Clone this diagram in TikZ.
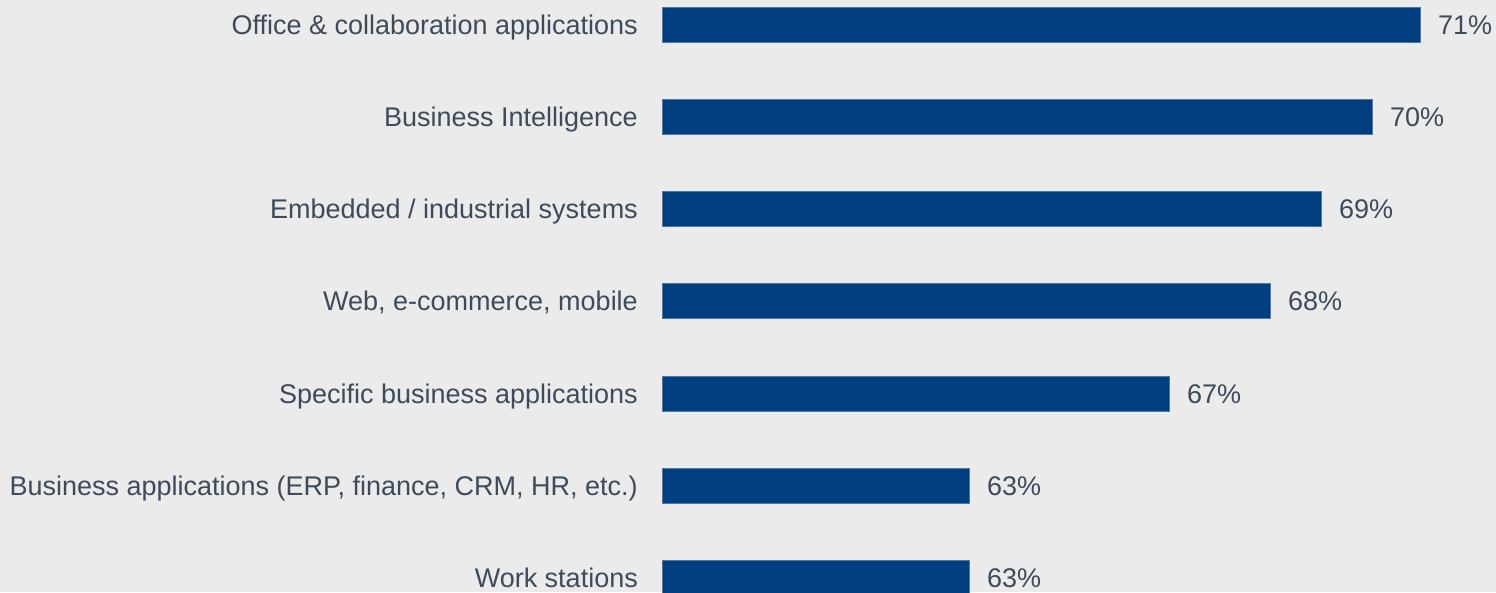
\documentclass[tikz,border=0pt]{standalone}
\usepackage{fontspec}
\setmainfont{Liberation Sans}
\definecolor{bgc}{HTML}{EBEBEB}
\definecolor{barc}{HTML}{003F7F}
\definecolor{txtc}{HTML}{3D4B5A}
\tikzset{
  lbl/.style={anchor=base east, inner sep=0pt, text=txtc, font=\fontsize{27}{32}\selectfont},
  pct/.style={anchor=base west, inner sep=0pt, text=txtc, font=\fontsize{27}{32}\selectfont},
  barbox/.style={fill=barc, draw=barc!70!white, line width=0.6pt}
}
\begin{document}
\begin{tikzpicture}[x=1pt,y=-1pt]
\useasboundingbox (0,0) rectangle (1496,592);
\clip (0,0) rectangle (1496,592);
\fill[bgc] (0,0) rectangle (1496,592);
\foreach \i/\cy/\e/\t/\p in {
  1/24.5/1420/{Office \& collaboration applications}/71\%,
  2/116.5/1372/{Business Intelligence}/70\%,
  3/209/1321/{Embedded / industrial systems}/69\%,
  4/301/1270/{Web, e-commerce, mobile}/68\%,
  5/394/1169/{Specific business applications}/67\%,
  6/486/969/{Business applications (ERP, finance, CRM, HR, etc.)}/63\%,
  7/578/969/{Work stations}/63\%}{
  \path[barbox] (662,\cy-17.5) rectangle (\e,\cy+17.5);
  \node[lbl] (l\i) at (638,\cy+9.6) {\t};
  \node[pct] (p\i) at (\e+18,\cy+9.6) {\p};
}
\end{tikzpicture}
\end{document}
